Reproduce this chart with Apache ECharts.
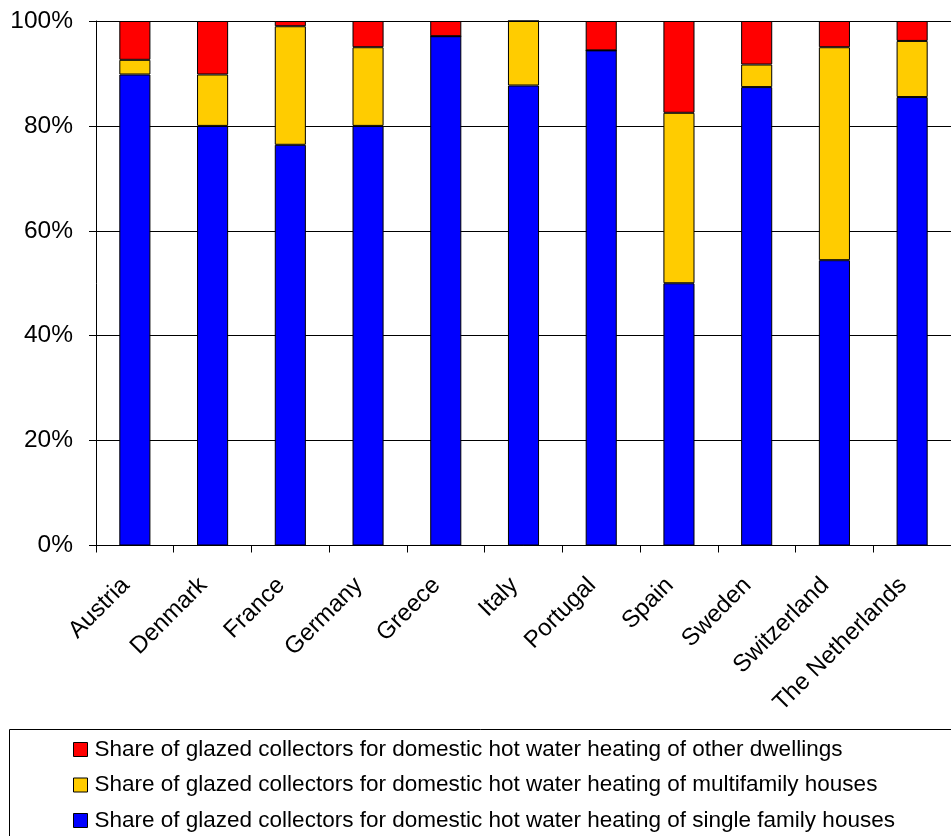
<!DOCTYPE html>
<html>
<head>
<meta charset="utf-8">
<script src="https://cdn.jsdelivr.net/npm/echarts@6/dist/echarts.min.js"></script>
<style>
html,body{margin:0;padding:0;background:#fff;}
#chart{width:951px;height:836px;}
</style>
</head>
<body>
<div id="chart"></div>
<script>
const categories = ['Austria','Denmark','France','Germany','Greece','Italy','Portugal','Spain','Sweden','Switzerland','The Netherlands'];
const singleFamily = [89.8, 80.0, 76.4, 80.0, 97.1, 87.7, 94.4, 50.0, 87.4, 54.4, 85.5];
const multiFamily  = [2.8, 9.8, 22.6, 15.0, 0, 12.3, 0, 32.5, 4.3, 40.6, 10.7];
const otherDwell   = [7.4, 10.2, 1.0, 5.0, 2.9, 0, 5.6, 17.5, 8.3, 5.0, 3.8];
const yTicks = [0, 20, 40, 60, 80, 100];

const nameOther = 'Share of glazed collectors for domestic hot water heating of other dwellings';
const nameMulti = 'Share of glazed collectors for domestic hot water heating of multifamily houses';
const nameSingle = 'Share of glazed collectors for domestic hot water heating of single family houses';

const FONT = "'Liberation Sans', Arial, sans-serif";
const chart = echarts.init(document.getElementById('chart'), null, {renderer: 'canvas'});

function barSeries(name, data, color) {
  return {
    name: name, type: 'bar', stack: 'total', data: data, barWidth: '40%',
    itemStyle: {color: color, borderColor: '#000', borderWidth: 1},
    emphasis: {disabled: true}
  };
}

chart.setOption({
  animation: false,
  backgroundColor: '#fff',
  grid: {left: 96, right: -10, top: 21, bottom: 290.5, containLabel: false},
  xAxis: {
    type: 'category', data: categories,
    axisLine: {lineStyle: {color: '#000', width: 1}},
    axisTick: {show: true, length: 7, interval: 0, lineStyle: {color: '#000'}},
    axisLabel: {interval: 0, rotate: 45, margin: 27, padding: [0, 13, 0, 0],
      fontSize: 24, color: '#000', fontFamily: FONT}
  },
  yAxis: {
    type: 'value', min: yTicks[0], max: yTicks[yTicks.length - 1], interval: 20,
    axisLine: {show: true, lineStyle: {color: '#000', width: 1}},
    axisTick: {show: true, length: 7, lineStyle: {color: '#000'}},
    splitLine: {show: true, lineStyle: {color: '#000', width: 1}},
    axisLabel: {formatter: '{value}%', margin: 23, fontSize: 24.5, color: '#000', fontFamily: FONT}
  },
  legend: {
    orient: 'vertical', left: 73, top: 738, padding: 0,
    itemWidth: 14, itemHeight: 14, itemGap: 12.5, icon: 'rect',
    data: [nameOther, nameMulti, nameSingle],
    itemStyle: {borderColor: '#000', borderWidth: 1},
    textStyle: {fontSize: 22.5, lineHeight: 22.5, color: '#000', fontFamily: FONT, padding: [0, 0, 0, 2]},
    selectedMode: false
  },
  graphic: [{
    type: 'rect', silent: true,
    shape: {x: 9.5, y: 729.5, width: 1000, height: 200},
    style: {fill: 'none', stroke: '#000', lineWidth: 1}
  }],
  series: [
    barSeries(nameSingle, singleFamily, '#0000FF'),
    barSeries(nameMulti, multiFamily, '#FFCC00'),
    barSeries(nameOther, otherDwell, '#FF0000')
  ]
});
</script>
</body>
</html>
